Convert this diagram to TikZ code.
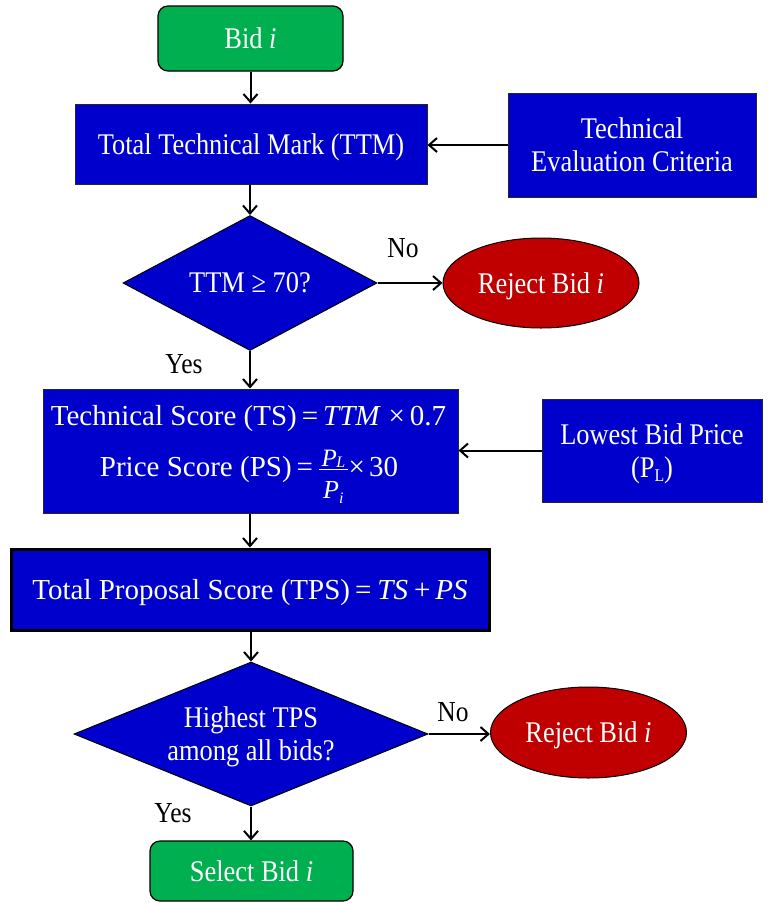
\documentclass[tikz,border=0pt]{standalone}
\usepackage{fontspec}
\setmainfont{Liberation Serif}
\newfontfamily\cond{Liberation Serif}[FakeStretch=0.88]
\usetikzlibrary{shapes.geometric,arrows.meta}
\definecolor{myblue}{RGB}{0,0,204}
\definecolor{mygreen}{RGB}{0,176,80}
\definecolor{myred}{RGB}{192,0,0}
\newcommand\bigfont{\cond\fontsize{30}{33}\selectfont}
\newcommand\eqfont{\normalfont\fontsize{29}{33}\selectfont}
\newcommand\myfrac[2]{%
  \setbox0=\hbox{#1}\setbox2=\hbox{#2}%
  \dimen0=\wd0 \ifdim\wd2>\dimen0 \dimen0=\wd2 \fi
  \advance\dimen0 by 5pt
  \rlap{\hbox to\dimen0{\hss\raise10pt\box0\hss}}%
  \rlap{\hbox to\dimen0{\hss\lower21.3pt\box2\hss}}%
  \rlap{\raise6.8pt\hbox{\vrule width\dimen0 height1.2pt depth0pt}}%
  \kern\dimen0 }
\tikzset{
  box/.style={rectangle, draw=black!85, line width=1pt, fill=myblue, text=white,
    inner sep=0pt, align=center, text depth=0pt, font=\bigfont},
  term/.style={rectangle, rounded corners=10pt, draw=black, line width=1.2pt,
    fill=mygreen, text=white, inner sep=0pt, align=center, text depth=0pt, font=\bigfont},
  dec/.style={diamond, draw=black, line width=1pt, fill=myblue, text=white,
    inner sep=0pt, align=center, text depth=0pt, font=\bigfont},
  rej/.style={ellipse, draw=black, line width=1pt, fill=myred, text=white,
    inner sep=0pt, align=center, text depth=0pt, font=\bigfont},
  lbl/.style={inner sep=0pt, text=black, font=\cond\fontsize{29}{33}\selectfont},
  eqtext/.style={inner sep=0pt, text=white, anchor=base, font=\eqfont},
  arr/.style={line width=2pt, -{Straight Barb[length=8pt,width=14pt]}}
}
\begin{document}
\begin{tikzpicture}[x=1pt,y=-1pt]
\useasboundingbox (0,0) rectangle (777,903);

\node[term, minimum width=185pt, minimum height=65pt] (bid) at (250.5,38.5) {Bid {\itshape i}};
\node[box, minimum width=352pt, minimum height=80pt] (ttm) at (251,144) {Total Technical Mark (TTM)};
\node[box, minimum width=248pt, minimum height=104pt] (tec) at (632,145) {Technical\\Evaluation Criteria};
\node[dec, shape aspect=1.88, minimum width=254pt, minimum height=135pt] (d1) at (250,283) {TTM ≥ 70?};
\node[rej, minimum width=196pt, minimum height=90pt] (rej1) at (541,283) {Reject Bid {\itshape i}};
\node[lbl] (no1) at (403,248) {No};
\node[lbl] (yes1) at (184,364) {Yes};

\node[box, minimum width=415pt, minimum height=124pt] (ts) at (250.5,451) {};
\node[eqtext] (tsl1) at (248.5,425.7) {Technical Score (TS)\kern5pt=\kern5pt{\itshape TTM}\kern9pt×\kern5pt0.7};
\node[eqtext] (tsl2) at (249,476.7) {Price Score (PS)\kern5pt=\kern6pt\myfrac{\fontsize{25}{25}\selectfont\itshape P\kern-0.5pt\raisebox{-1pt}{\fontsize{16}{16}\selectfont\itshape L}}{\fontsize{26}{26}\selectfont\itshape P\raisebox{-5pt}{\fontsize{16}{16}\selectfont\itshape i}}\kern1pt×\kern4pt30};
\node[box, minimum width=220pt, minimum height=103pt] (lbp) at (652,450.5) {Lowest Bid Price\\(P\raisebox{-4pt}{\fontsize{18}{18}\selectfont L})};

\node[box, draw=black, line width=3pt, minimum width=478pt, minimum height=81pt, font=\eqfont] (tps) at (250,589.5)
  {Total Proposal Score (TPS)\kern5pt=\kern6pt{\itshape TS}\kern6pt+\kern5pt{\itshape PS}};

\node[dec, shape aspect=2.46, minimum width=354pt, minimum height=144pt] (d2) at (251,734) {Highest TPS\\among all bids?};
\node[rej, minimum width=196pt, minimum height=91pt] (rej2) at (588.5,732.5) {Reject Bid {\itshape i}};
\node[lbl] (no2) at (453,712) {No};
\node[lbl] (yes2) at (173,813) {Yes};
\node[term, minimum width=203pt, minimum height=60pt] (sel) at (251.5,871) {Select Bid {\itshape i}};

\draw[arr] (bid.south) -- (bid.south |- ttm.north);
\draw[arr] (tec.west) -- (tec.west -| ttm.east);
\draw[arr] (ttm.south -| d1.north) -- (d1.north);
\draw[arr] (d1.east) -- (rej1.west);
\draw[arr] (d1.south) -- (d1.south |- ts.north);
\draw[arr] (lbp.west) -- (lbp.west -| ts.east);
\draw[arr] (ts.south -| tps.north) -- (tps.north);
\draw[arr] (tps.south -| d2.north) -- (d2.north);
\draw[arr] (d2.east) -- (d2.east -| rej2.west);
\draw[arr] (d2.south) -- (d2.south |- sel.north);
\end{tikzpicture}
\end{document}
